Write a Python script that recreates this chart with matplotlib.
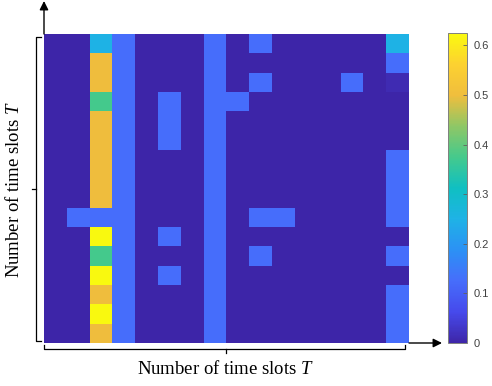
import numpy as np
import matplotlib
matplotlib.use("Agg")
import matplotlib.pyplot as plt
from matplotlib.colors import LinearSegmentedColormap
from matplotlib.lines import Line2D

plt.rcParams["mathtext.fontset"] = "custom"
plt.rcParams["mathtext.rm"] = "Liberation Serif"
plt.rcParams["mathtext.it"] = "Liberation Serif:italic"

# Allocation share per time slot (rows: time slot, top to bottom; columns: time slot)
slot_rows = [
    [0, 0, 0.25,  0.125, 0, 0,     0, 0.125, 0,     0.125, 0,     0, 0, 0,     0, 0.25],
    [0, 0, 0.5,   0.125, 0, 0,     0, 0.125, 0,     0,     0,     0, 0, 0,     0, 0.125],
    [0, 0, 0.5,   0.125, 0, 0,     0, 0.125, 0,     0.125, 0,     0, 0, 0.125, 0, 0.01],
    [0, 0, 0.375, 0.125, 0, 0.125, 0, 0.125, 0.125, 0,     0,     0, 0, 0,     0, 0],
    [0, 0, 0.5,   0.125, 0, 0.125, 0, 0.125, 0,     0,     0,     0, 0, 0,     0, 0],
    [0, 0, 0.5,   0.125, 0, 0.125, 0, 0.125, 0,     0,     0,     0, 0, 0,     0, 0],
    [0, 0, 0.5,   0.125, 0, 0,     0, 0.125, 0,     0,     0,     0, 0, 0,     0, 0.125],
    [0, 0, 0.5,   0.125, 0, 0,     0, 0.125, 0,     0,     0,     0, 0, 0,     0, 0.125],
    [0, 0, 0.5,   0.125, 0, 0,     0, 0.125, 0,     0,     0,     0, 0, 0,     0, 0.125],
    [0, 0.125, 0.125, 0.125, 0, 0, 0, 0.125, 0,     0.125, 0.125, 0, 0, 0,     0, 0.125],
    [0, 0, 0.625, 0.125, 0, 0.125, 0, 0.125, 0,     0,     0,     0, 0, 0,     0, 0],
    [0, 0, 0.375, 0.125, 0, 0,     0, 0.125, 0,     0.125, 0,     0, 0, 0,     0, 0.125],
    [0, 0, 0.625, 0.125, 0, 0.125, 0, 0.125, 0,     0,     0,     0, 0, 0,     0, 0],
    [0, 0, 0.5,   0.125, 0, 0,     0, 0.125, 0,     0,     0,     0, 0, 0,     0, 0.125],
    [0, 0, 0.625, 0.125, 0, 0,     0, 0.125, 0,     0,     0,     0, 0, 0,     0, 0.125],
    [0, 0, 0.5,   0.125, 0, 0,     0, 0.125, 0,     0,     0,     0, 0, 0,     0, 0.125],
]
cbar_ticks = [0, 0.1, 0.2, 0.3, 0.4, 0.5, 0.6]
cbar_labels = ["0", "0.1", "0.2", "0.3", "0.4", "0.5", "0.6"]
vmin, vmax = 0.0, 0.625
axis_label = "Number of time slots $T$"

# Parula-like colormap
parula_pts = [
    (0.00, (0.243, 0.149, 0.659)),
    (0.10, (0.275, 0.290, 0.925)),
    (0.20, (0.275, 0.430, 0.985)),
    (0.30, (0.170, 0.570, 0.960)),
    (0.40, (0.120, 0.700, 0.900)),
    (0.50, (0.060, 0.750, 0.760)),
    (0.60, (0.270, 0.790, 0.550)),
    (0.70, (0.560, 0.780, 0.400)),
    (0.80, (0.940, 0.745, 0.240)),
    (0.90, (0.990, 0.820, 0.190)),
    (1.00, (0.980, 0.980, 0.060)),
]
parula = LinearSegmentedColormap.from_list("parula_like", parula_pts, N=256)

W, H = 492, 386
fig = plt.figure(figsize=(W / 100, H / 100), dpi=100)

def fx(x):
    return x / W

def fy(y):
    return 1 - y / H

ax = fig.add_axes([fx(44), fy(343), (409 - 44) / W, (343 - 34) / H])
data = np.array(slot_rows)
im = ax.imshow(data, cmap=parula, vmin=vmin, vmax=vmax, aspect="auto",
               interpolation="nearest", origin="upper")
ax.set_xticks([])
ax.set_yticks([])
for s in ax.spines.values():
    s.set_visible(False)

# Axis arrows
arrow_kw = dict(arrowstyle="-|>", lw=1.0, color="black", mutation_scale=13,
                shrinkA=0, shrinkB=0)
ax.annotate("", xy=(fx(442), fy(343)), xytext=(fx(409), fy(343)),
            xycoords="figure fraction", textcoords="figure fraction",
            arrowprops=arrow_kw, annotation_clip=False)
ax.annotate("", xy=(fx(44), fy(1)), xytext=(fx(44), fy(34)),
            xycoords="figure fraction", textcoords="figure fraction",
            arrowprops=arrow_kw, annotation_clip=False)

# Braces
brace_kw = dict(color="black", lw=0.9, transform=fig.transFigure)
bx = 36
fig.add_artist(Line2D([fx(bx + 5), fx(bx), fx(bx), fx(bx + 5)],
                      [fy(37), fy(37), fy(341), fy(341)], **brace_kw))
fig.add_artist(Line2D([fx(bx), fx(bx - 4)], [fy(189), fy(189)], **brace_kw))
by = 349
fig.add_artist(Line2D([fx(44), fx(44), fx(405), fx(405)],
                      [fy(by - 4), fy(by), fy(by), fy(by - 4)], **brace_kw))
fig.add_artist(Line2D([fx(226), fx(226)], [fy(by), fy(by + 4)], **brace_kw))

# Labels
fig.text(fx(226), fy(369), axis_label, ha="center", va="center",
         family="Liberation Serif", fontsize=13.5)
fig.text(fx(14), fy(189), axis_label, ha="center", va="center", rotation=90,
         family="Liberation Serif", fontsize=13.5)

# Colorbar
cax = fig.add_axes([fx(448), fy(343), 19 / W, (343 - 33) / H])
cb = fig.colorbar(im, cax=cax)
cb.set_ticks(cbar_ticks)
cb.set_ticklabels(cbar_labels)
cb.outline.set_edgecolor("#808080")
cb.outline.set_linewidth(0.7)
cax.tick_params(direction="in", length=3, width=0.6, color="#606060",
                labelsize=8, labelcolor="#404040", pad=5)
for t in cax.get_yticklabels():
    t.set_family("Liberation Sans")

fig.savefig("out.png", dpi=100)
